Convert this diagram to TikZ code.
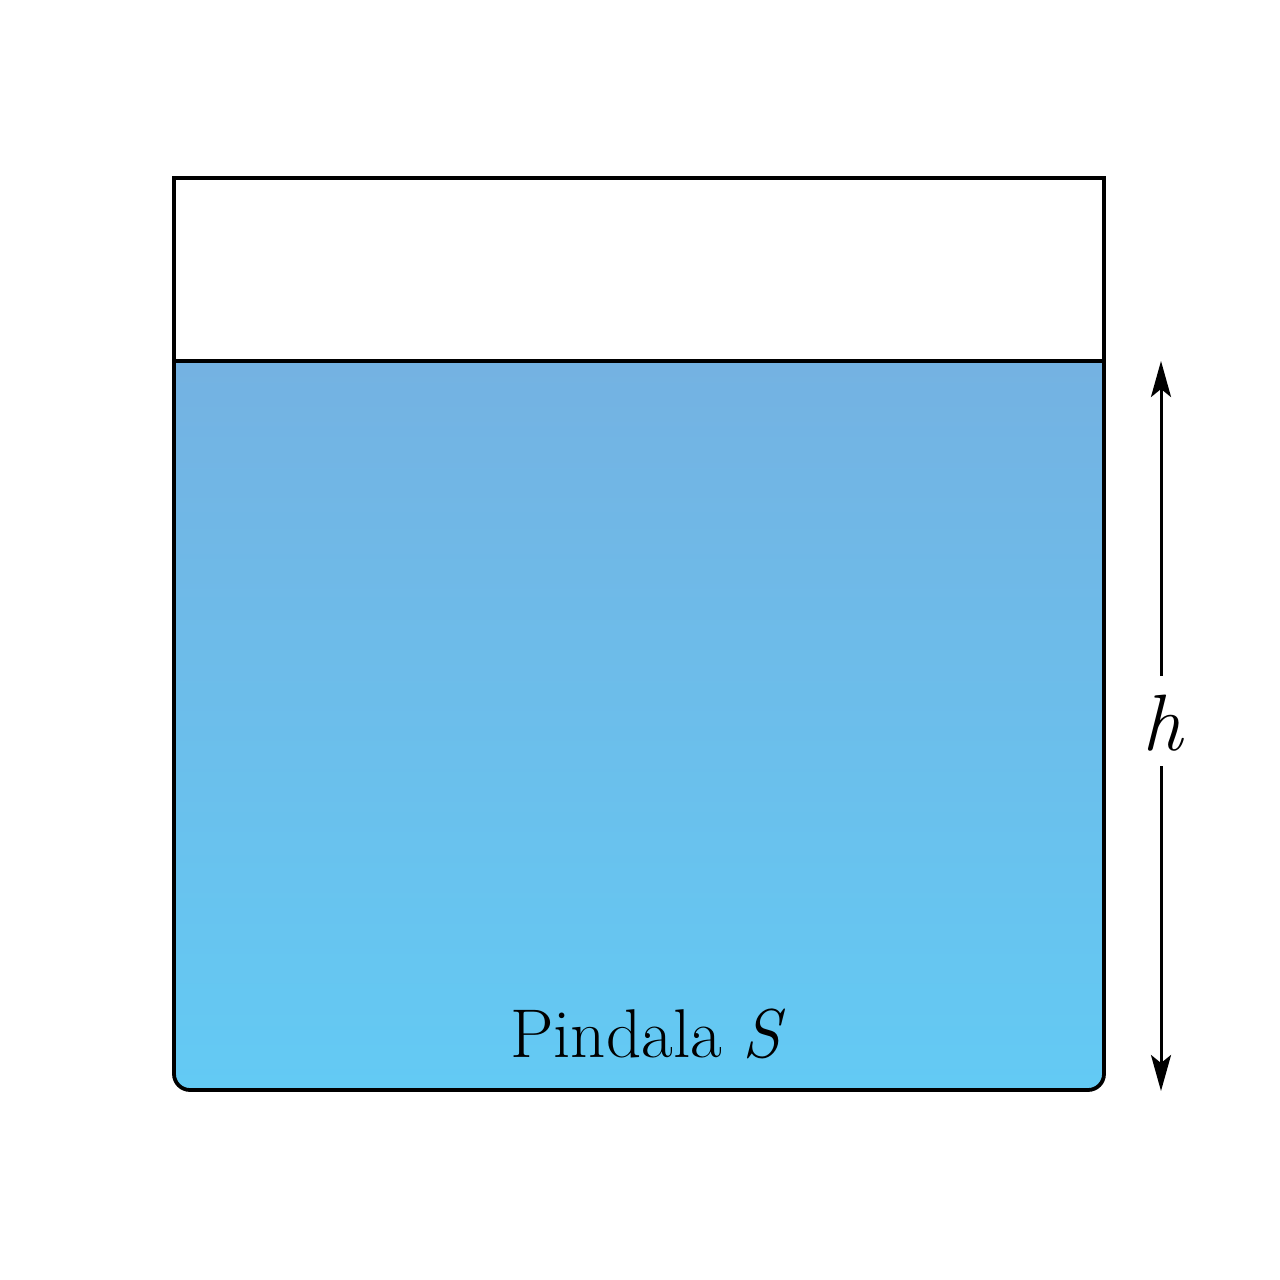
\documentclass[tikz,border=0pt]{standalone}
\usetikzlibrary{arrows.meta}
\definecolor{wtop}{HTML}{74B2E2}
\definecolor{wbot}{HTML}{63CAF4}
\begin{document}
\begin{tikzpicture}[x=0.5pt,y=-0.5pt,
  wall/.style={draw=black,line width=1.9pt},
  dimarrow/.style={line width=1.5pt,-{Stealth[length=18pt,width=10pt,inset=4pt]}},
  lbl/.style={font=\fontsize{34.5}{40}\selectfont,inner sep=0pt}]
\useasboundingbox (0,0) rectangle (1280,1280);
% water
\shade[top color=wtop,bottom color=wbot,rounded corners=8]
  (174,361) -- (174,1090) -- (1104,1090) [sharp corners] -- (1104,361) -- cycle;
% container
\draw[wall,rounded corners=8] (174,178) -- (174,1090) -- (1104,1090) [sharp corners] -- (1104,178) -- cycle;
\draw[wall] (174,361) -- (1104,361);
% dimension
\coordinate (htop) at (1161,361);
\coordinate (hbot) at (1161,1091);
\node[font=\fontsize{40}{46}\selectfont,inner sep=0pt] (hl) at (1163,723) {\textit{h}};
\draw[dimarrow] (1161,676) -- (htop);
\draw[dimarrow] (1161,766) -- (hbot);
\node[lbl] (area) at (648,1034) {Pindala \textit{S}};
\end{tikzpicture}
\end{document}
